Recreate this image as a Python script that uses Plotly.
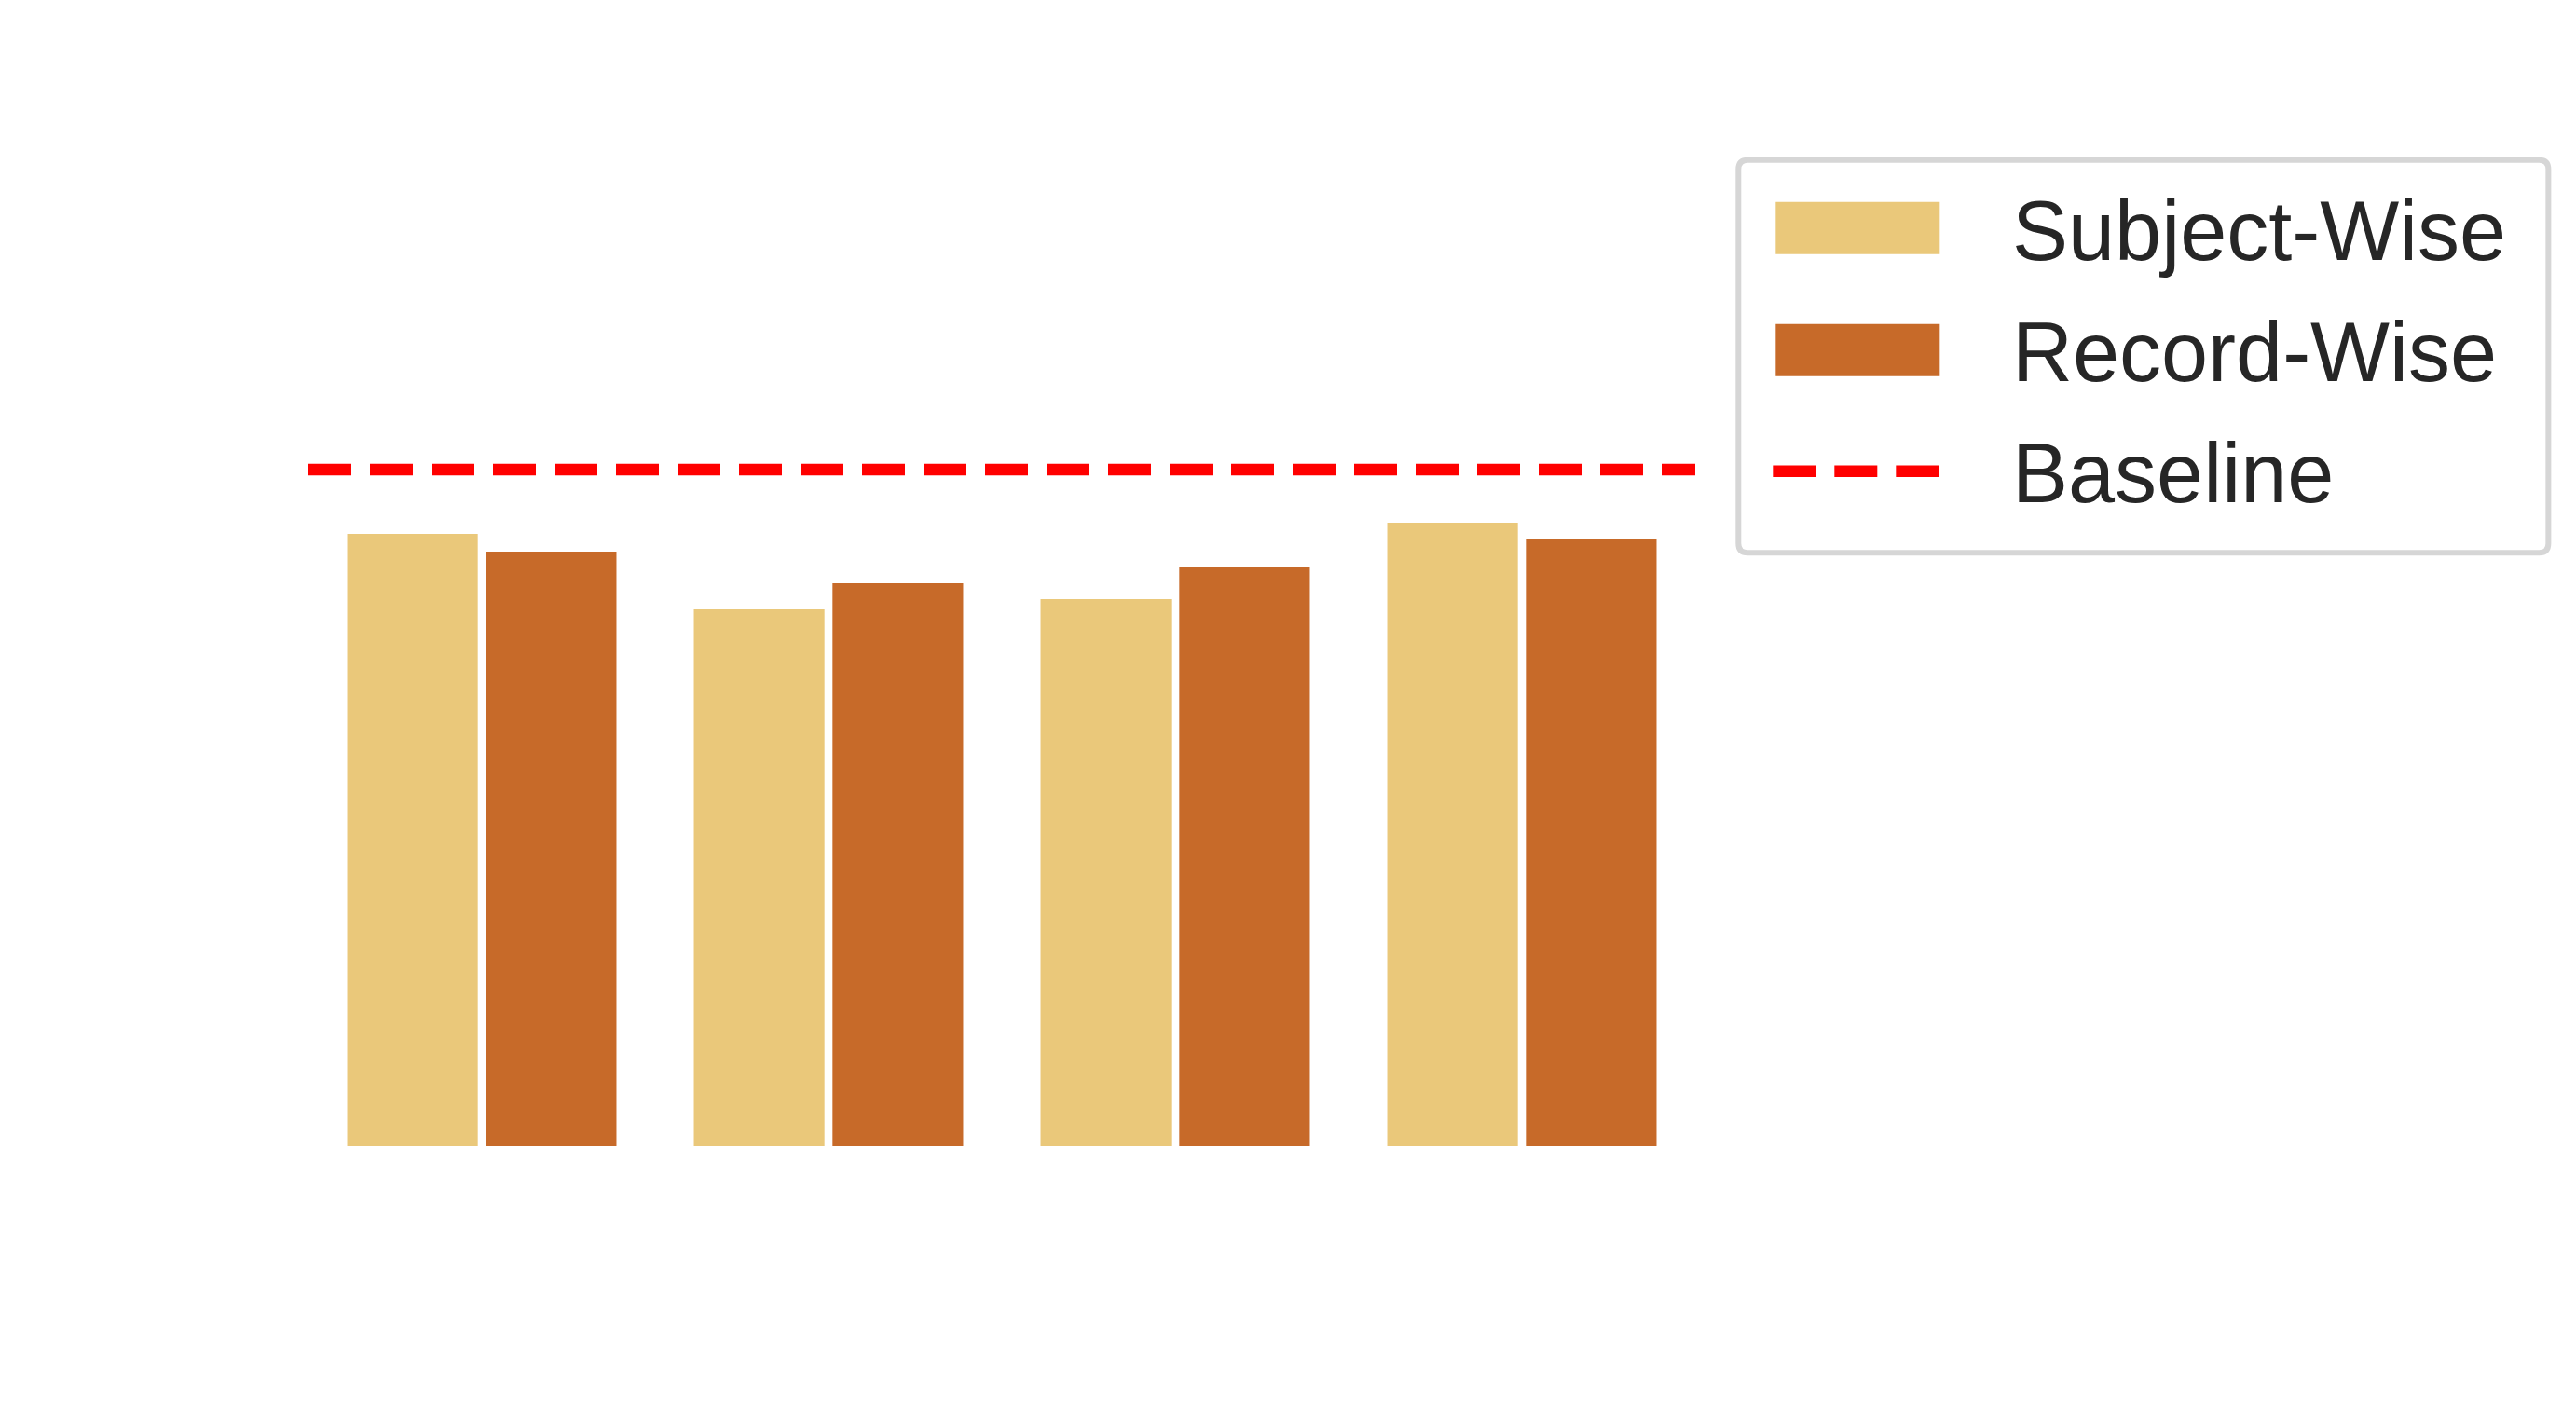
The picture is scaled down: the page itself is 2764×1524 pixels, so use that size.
import plotly.graph_objects as go

# ---- data ----
categories = ["C1", "C2", "C3", "C4"]
subject_wise = [0.657, 0.576, 0.587, 0.669]
record_wise = [0.638, 0.604, 0.621, 0.651]
baseline_value = 0.726
series_names = ["Subject-Wise", "Record-Wise", "Baseline"]

# ---- style / layout constants ----
W, H = 2764, 1524
PL, PR, PT, PB = 330.8, 1818.7, 230.3, 1230.3  # plot area in pixels
X_RANGE = [-0.5, 3.5]
Y_RANGE = [0, 1.0]
C_LIGHT = "#EAC87A"
C_DARK = "#C76A29"
C_RED = "#FF0000"
TXT = "#262626"
FONT = "Liberation Sans, Arial, sans-serif"

xpos = list(range(len(categories)))


def px(x):
    return (x - PL) / (PR - PL)


def py(y):
    return (PB - y) / (PB - PT)


fig = go.Figure()
fig.add_trace(go.Bar(x=xpos, y=subject_wise, name=series_names[0], customdata=categories,
                     marker=dict(color=C_LIGHT, line=dict(width=0))))
fig.add_trace(go.Bar(x=xpos, y=record_wise, name=series_names[1], customdata=categories,
                     marker=dict(color=C_DARK, line=dict(width=0))))
fig.add_trace(go.Scatter(x=[X_RANGE[0], X_RANGE[1]], y=[baseline_value, baseline_value],
                         mode="lines", name=series_names[2], cliponaxis=False,
                         line=dict(color=C_RED, width=12.5, dash="46px,20px")))

shapes = []
# legend box with rounded corners (manual legend)
bx0, bx1, by0, by1, r = 1865, 2734, 172, 593.5, 10
path = (f"M {px(bx0 + r)},{py(by0)} L {px(bx1 - r)},{py(by0)} "
        f"Q {px(bx1)},{py(by0)} {px(bx1)},{py(by0 + r)} "
        f"L {px(bx1)},{py(by1 - r)} Q {px(bx1)},{py(by1)} {px(bx1 - r)},{py(by1)} "
        f"L {px(bx0 + r)},{py(by1)} Q {px(bx0)},{py(by1)} {px(bx0)},{py(by1 - r)} "
        f"L {px(bx0)},{py(by0 + r)} Q {px(bx0)},{py(by0)} {px(bx0 + r)},{py(by0)} Z")
shapes.append(dict(type="path", xref="paper", yref="paper", path=path,
                   fillcolor="white", line=dict(color="#D6D6D6", width=6), layer="above"))
# swatches
shapes.append(dict(type="rect", xref="paper", yref="paper",
                   x0=px(1905), x1=px(2081), y0=py(217), y1=py(273),
                   fillcolor=C_LIGHT, line=dict(width=0), layer="above"))
shapes.append(dict(type="rect", xref="paper", yref="paper",
                   x0=px(1905), x1=px(2081), y0=py(348), y1=py(404),
                   fillcolor=C_DARK, line=dict(width=0), layer="above"))
shapes.append(dict(type="line", xref="paper", yref="paper",
                   x0=px(1902), x1=px(2080), y0=py(506), y1=py(506),
                   line=dict(color=C_RED, width=12.5, dash="46px,20px"), layer="above"))

annotations = []
for name, yc in zip(series_names, [245, 375, 505]):
    annotations.append(dict(text=name, xref="paper", yref="paper", x=px(2157), y=py(yc + 3),
                            xanchor="left", yanchor="middle", showarrow=False,
                            font=dict(family=FONT, size=90, color=TXT)))

fig.update_layout(
    width=W, height=H,
    margin=dict(l=PL, r=W - PR, t=PT, b=H - PB, pad=0),
    paper_bgcolor="white", plot_bgcolor="white",
    barmode="group", bargap=0.2, bargroupgap=0.058,
    showlegend=False,
    shapes=shapes, annotations=annotations,
    xaxis=dict(range=X_RANGE, visible=False, showgrid=False, zeroline=False),
    yaxis=dict(range=Y_RANGE, visible=False, showgrid=False, zeroline=False),
)

fig.write_html("out.html")
